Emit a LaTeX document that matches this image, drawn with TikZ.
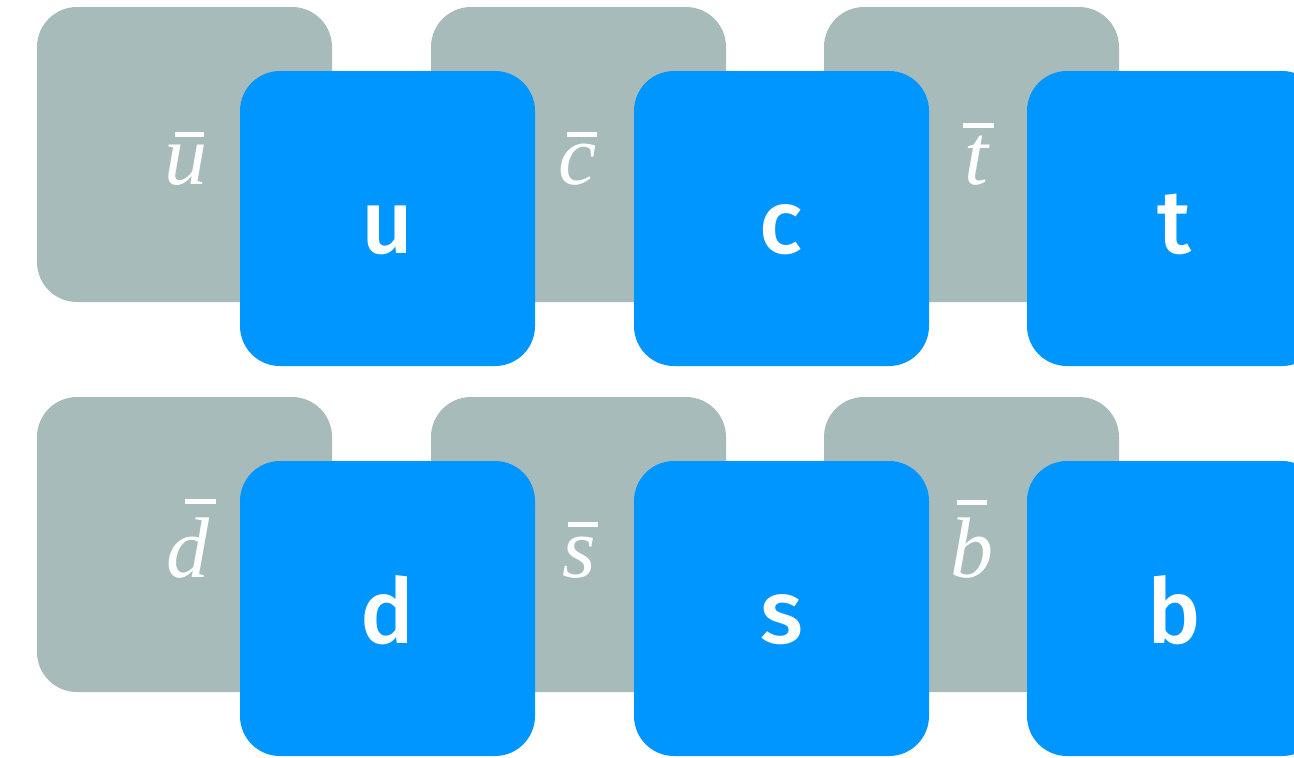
\documentclass[tikz,border=0pt]{standalone}
\usepackage{fontspec}
\newfontfamily\antifont{LiberationSerif-Italic.ttf}
\newfontfamily\blfont{Fira Sans Medium}
\definecolor{antigray}{HTML}{A7BBBB}
\definecolor{quarkblue}{HTML}{0096FF}
\begin{document}
\begin{tikzpicture}[x=1pt,y=-1pt,
  card/.style={rectangle,rounded corners=40pt,minimum width=295pt,minimum height=295pt,inner sep=0pt,draw=none},
  anticard/.style={card,fill=antigray},
  quarkcard/.style={card,fill=quarkblue},
  antilabel/.style={anchor=base,inner sep=0pt,text=white,font=\fontsize{86}{86}\selectfont\antifont},
  quarklabel/.style={anchor=base,inner sep=0pt,text=white,font=\fontsize{90}{90}\selectfont\blfont}]
\useasboundingbox (0,0) rectangle (1294,758);
\clip (0,0) rectangle (1294,758);
% antiquark cards
\node[anticard] (ub) at (184.5,154.5) {};
\node[anticard] (cb) at (578.5,154.5) {};
\node[anticard] (tb) at (971.5,154.5) {};
\node[anticard] (db) at (184.5,544.5) {};
\node[anticard] (sb) at (578.5,544.5) {};
\node[anticard] (bb) at (971.5,544.5) {};
% antiquark labels
\node[antilabel] (ubl) at (186,184) {u};
\node[antilabel] (cbl) at (578,184) {c};
\node[antilabel] (tbl) at (976,184) {t};
\node[antilabel] (dbl) at (188,577) {d};
\node[antilabel] (sbl) at (579,577) {s};
\node[antilabel] (bbl) at (972,577) {b};
% bars
\fill[white] (175,132) rectangle (204,137);
\fill[white] (567,132) rectangle (597,137);
\fill[white] (963,123) rectangle (994,128);
\fill[white] (185,499) rectangle (216,504);
\fill[white] (568,522) rectangle (598,527);
\fill[white] (957,500) rectangle (987,505);
% quark cards
\node[quarkcard] (u) at (387.5,218.5) {};
\node[quarkcard] (c) at (781.5,218.5) {};
\node[quarkcard] (t) at (1174.5,218.5) {};
\node[quarkcard] (d) at (387.5,608.5) {};
\node[quarkcard] (s) at (781.5,608.5) {};
\node[quarkcard] (b) at (1174.5,608.5) {};
% quark labels
\node[quarklabel] (ul) at (387.5,253) {u};
\node[quarklabel] (cl) at (781.5,253) {c};
\node[quarklabel] (tl) at (1174.5,253) {t};
\node[quarklabel] (dl) at (387.5,643) {d};
\node[quarklabel] (sl) at (781.5,643) {s};
\node[quarklabel] (bl) at (1174.5,643) {b};
\end{tikzpicture}
\end{document}
